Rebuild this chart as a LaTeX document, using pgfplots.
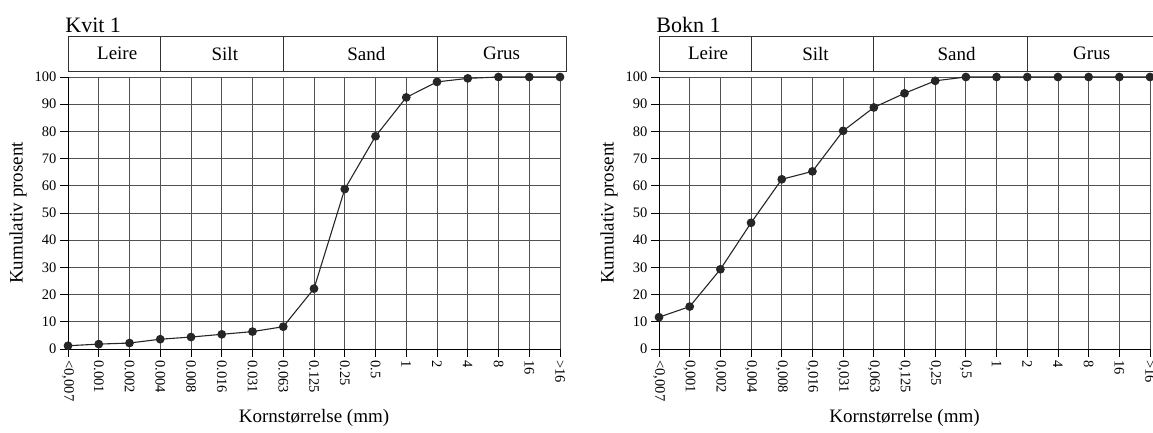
\documentclass[border=0pt]{standalone}
\usepackage{fontspec}
\setmainfont{Liberation Serif}
\usepackage{pgfplots}
\pgfplotsset{compat=1.18}

\pgfplotsset{
  sieve/.style={
    scale only axis, width=492pt, height=272pt,
    xmin=0, xmax=16, ymin=0, ymax=100,
    axis x line=bottom, axis y line=left,
    axis line style={-, black, line width=1pt},
    xtick={0,...,16}, ytick={0,10,...,100},
    grid=major, grid style={black!68, line width=0.9pt},
    tick align=outside, major tick length=8pt,
    tick style={black, line width=0.9pt},
    xticklabel style={rotate=-90, anchor=west, font=\fontsize{14.5}{16}\selectfont},
    yticklabel style={font=\fontsize{14.5}{16}\selectfont},
    /pgf/number format/assume math mode=true,
    xlabel={Kornstørrelse (mm)}, ylabel={Kumulativ prosent},
    label style={font=\fontsize{19}{21}\selectfont},
    xlabel style={at={(axis description cs:0.5,-0.2537)}, anchor=center},
    ylabel style={at={(axis description cs:-0.1016,0.5)}, anchor=center},
    clip=false,
  },
  curve/.style={black!85, line width=1.1pt, mark=*, mark size=3.8pt,
    mark options={fill=black!85, draw=black!85}},
}

\newcommand{\classbox}{%
  \draw[black!80, line width=1pt] (axis cs:0,102.2) rectangle (axis cs:16.2,115);
  \draw[black!80, line width=1pt] (axis cs:3,102.2) -- (axis cs:3,115);
  \draw[black!80, line width=1pt] (axis cs:7,102.2) -- (axis cs:7,115);
  \draw[black!80, line width=1pt] (axis cs:12,102.2) -- (axis cs:12,115);
  \node[font=\fontsize{19}{21}\selectfont] at (axis cs:1.6,108.6) {Leire};
  \node[font=\fontsize{19}{21}\selectfont] at (axis cs:5.1,108.6) {Silt};
  \node[font=\fontsize{19}{21}\selectfont] at (axis cs:9.7,108.6) {Sand};
  \node[font=\fontsize{19}{21}\selectfont] at (axis cs:14.1,108.6) {Grus};
}

\begin{document}
\begin{tikzpicture}

% Kvit 1
\begin{axis}[sieve, at={(68pt,-349pt)}, anchor=south west,
  xticklabels={{<0,007},0.001,0.002,0.004,0.008,0.016,0.031,0.063,0.125,0.25,0.5,1,2,4,8,16,>16}]
  \addplot[curve] coordinates {
    (0,1.2) (1,1.8) (2,2.2) (3,3.6) (4,4.4) (5,5.4) (6,6.4) (7,8.2)
    (8,22.2) (9,58.8) (10,78.2) (11,92.5) (12,98.2) (13,99.5)
    (14,100) (15,100) (16,100)};
  \classbox
  \node[anchor=base west, font=\fontsize{22}{24}\selectfont] at (axis cs:-0.2,116.2) {Kvit 1};
\end{axis}

% Bokn 1
\begin{axis}[sieve, at={(659pt,-349pt)}, anchor=south west, width=491pt,
  xticklabels={{<0,007},{0,001},{0,002},{0,004},{0,008},{0,016},{0,031},{0,063},{0,125},{0,25},{0,5},1,2,4,8,16,>16}]
  \addplot[curve] coordinates {
    (0,11.7) (1,15.6) (2,29.3) (3,46.4) (4,62.4) (5,65.3) (6,80.2) (7,88.8)
    (8,94) (9,98.6) (10,100) (11,100) (12,100) (13,100)
    (14,100) (15,100) (16,100)};
  \classbox
  \node[anchor=base west, font=\fontsize{22}{24}\selectfont] at (axis cs:-0.2,116.2) {Bokn 1};
\end{axis}

\pgfresetboundingbox
\useasboundingbox (0,0) rectangle (1153pt,-432pt);
\end{tikzpicture}
\end{document}
